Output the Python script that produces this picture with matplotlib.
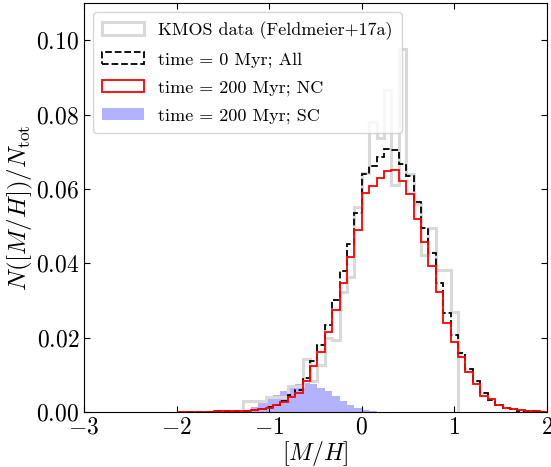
import numpy as np
import matplotlib
matplotlib.use("Agg")
import matplotlib.pyplot as plt

plt.rcParams['font.family'] = 'serif'
plt.rcParams['font.serif'] = ['cmr10']
plt.rcParams['mathtext.fontset'] = 'cm'
plt.rcParams['axes.formatter.use_mathtext'] = True

# common binning of the histograms
bin_edges = np.linspace(-2.0, 2.0, 51)
centers = 0.5 * (bin_edges[1:] + bin_edges[:-1])

# time = 0 Myr, all stars (50 bins from -2 to 2)
all_0 = [0.0001, 0.0001, 0.0001, 0.0001, 0.0001, 0.0002, 0.0002, 0.0003, 0.0003, 0.0004,
         0.0006, 0.0009, 0.0013, 0.0020, 0.0029, 0.0045, 0.0058, 0.0092, 0.0137, 0.0180,
         0.0235, 0.0300, 0.0378, 0.0452, 0.0536, 0.0640, 0.0662, 0.0686, 0.0708, 0.0705,
         0.0667, 0.0635, 0.0565, 0.0495, 0.0428, 0.0346, 0.0267, 0.0206, 0.0159, 0.0115,
         0.0084, 0.0052, 0.0032, 0.0018, 0.0011, 0.0007, 0.0004, 0.0003, 0.0002, 0.0001]

# time = 200 Myr, NC
nc_200 = [0.0001, 0.0001, 0.0001, 0.0001, 0.0001, 0.0002, 0.0002, 0.0003, 0.0003, 0.0004,
          0.0005, 0.0008, 0.0012, 0.0018, 0.0026, 0.0040, 0.0052, 0.0082, 0.0124, 0.0162,
          0.0216, 0.0274, 0.0346, 0.0416, 0.0489, 0.0588, 0.0608, 0.0628, 0.0649, 0.0650,
          0.0621, 0.0586, 0.0520, 0.0458, 0.0392, 0.0322, 0.0240, 0.0188, 0.0148, 0.0108,
          0.0076, 0.0044, 0.0034, 0.0019, 0.0012, 0.0007, 0.0005, 0.0003, 0.0002, 0.0001]

# time = 200 Myr, SC (bins from -1.36 to 0.24)
sc_start = 8
sc_200 = [0.0002, 0.0005, 0.0014, 0.0025, 0.0034, 0.0046, 0.0057, 0.0064, 0.0075, 0.0079,
          0.0075, 0.0064, 0.0057, 0.0042, 0.0029, 0.0020, 0.0012, 0.0006, 0.0003, 0.0001]

# KMOS data (bins from -1.28 to 1.04)
kmos_start = 9
kmos = [0.0030, 0.0030, 0.0030, 0.0041, 0.0041, 0.0041, 0.0070, 0.0070, 0.0142, 0.0082,
        0.0126, 0.0198, 0.0194, 0.0323, 0.0364, 0.0552, 0.0642, 0.0780, 0.0736, 0.0866,
        0.0610, 0.0977, 0.0640, 0.0560, 0.0422, 0.0495, 0.0382, 0.0382, 0.0270]

fig, ax = plt.subplots(figsize=(5.51, 4.67), dpi=100)
fig.subplots_adjust(left=0.1525, right=0.9927, bottom=0.1178, top=0.9936)

k_edges = bin_edges[kmos_start:kmos_start + len(kmos) + 1]
ax.hist(centers[kmos_start:kmos_start + len(kmos)], bins=k_edges, weights=kmos,
        histtype='step', color='0.85', lw=2.2, label='KMOS data (Feldmeier+17a)')
ax.hist(centers, bins=bin_edges, weights=all_0, histtype='step', color='k',
        ls='--', lw=1.3, label='time = 0 Myr; All')
ax.hist(centers, bins=bin_edges, weights=nc_200, histtype='step', color='red',
        lw=1.3, label='time = 200 Myr; NC')
s_edges = bin_edges[sc_start:sc_start + len(sc_200) + 1]
ax.hist(centers[sc_start:sc_start + len(sc_200)], bins=s_edges, weights=sc_200,
        histtype='stepfilled', color='blue', alpha=0.3, label='time = 200 Myr; SC')

ax.set_xlim(-3, 2)
ax.set_ylim(0, 0.11)
ax.set_xticks([-3, -2, -1, 0, 1, 2])
ax.set_yticks([0.0, 0.02, 0.04, 0.06, 0.08, 0.10])
ax.yaxis.set_major_formatter(matplotlib.ticker.FormatStrFormatter('$%.2f$'))
ax.tick_params(direction='in', top=True, right=True, labelsize=17, length=4)
ax.set_xlabel(r'$[M/H]$', fontsize=17, labelpad=0)
ax.set_ylabel(r'$N([M/H])/N_{\rm tot}$', fontsize=18, labelpad=1)

ax.legend(loc='upper left', fontsize=13, handlelength=2.3, labelspacing=0.66,
          handletextpad=0.8, borderpad=0.5)

fig.savefig('out.png', dpi=100)
